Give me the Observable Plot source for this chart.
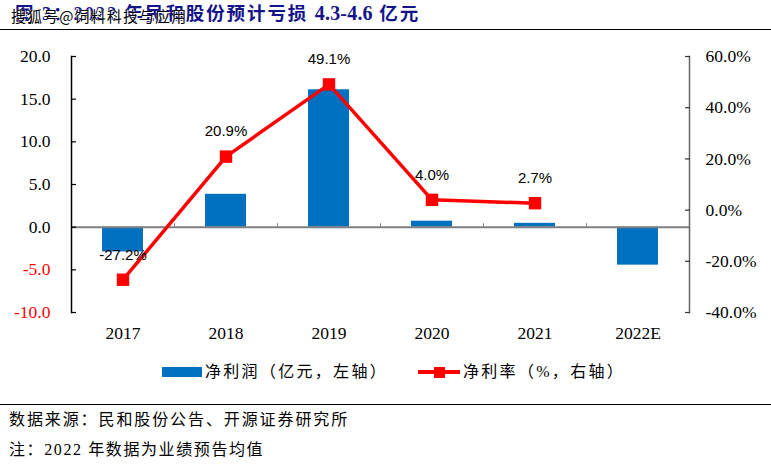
<!DOCTYPE html>
<html><head><meta charset="utf-8">
<script src="https://cdn.jsdelivr.net/npm/d3@7"></script>
<script src="https://cdn.jsdelivr.net/npm/@observablehq/plot@0.6"></script>
<style>
html,body{margin:0;padding:0;background:#fff;}
body{width:771px;height:464px;position:relative;overflow:hidden;font-family:"Liberation Serif","Noto Sans CJK SC",serif;color:#000;}
#title{position:absolute;left:0;top:0;width:771px;height:30px;border-bottom:1.5px solid #000;box-sizing:border-box;font-size:18.5px;font-weight:bold;color:#14148a;line-height:27px;padding-left:15px;letter-spacing:1.9px;white-space:nowrap;}
#title b{letter-spacing:0.2px;font-size:20px;}
#mark{position:absolute;left:11px;top:5px;font:15px/22px "Noto Sans CJK SC",sans-serif;letter-spacing:1.1px;color:#000;white-space:nowrap;text-shadow:0 0 1px #fff,1px 1px 0 #fff;}
#chart{position:absolute;left:0;top:40px;width:771px;height:310px;}
#chart svg{max-width:none !important;}
#legend{position:absolute;top:362px;left:0;width:771px;height:22px;font-size:16px;letter-spacing:2.3px;}
#legend span{position:absolute;top:0;line-height:20px;white-space:nowrap;}
#legend i{position:absolute;display:block;}
#foot{position:absolute;left:0;top:404px;width:771px;border-top:1.5px solid #000;font-size:16px;letter-spacing:1.9px;padding-left:9px;box-sizing:border-box;}
#foot div{line-height:30px;height:30px;}
#foot div+div{letter-spacing:1.6px;}
</style></head><body>
<div id="title">图 3：2022 年民和股份预计亏损 <b>4.3-4.6</b> 亿元</div>
<div id="mark">搜狐号@饲料科技与应用</div>
<div id="chart"></div>
<div id="legend">
<i style="left:162px;top:5px;width:40px;height:10px;background:#0070c0"></i><span style="left:205px">净利润（亿元，左轴）</span>
<i style="left:418px;top:8px;width:42px;height:3.5px;background:#ff0000"></i><i style="left:433.5px;top:4.5px;width:11px;height:11px;background:#ff0000"></i><span style="left:463px">净利率（%，右轴）</span>
</div>
<div id="foot"><div>数据来源：民和股份公告、开源证券研究所</div><div>注：2022 年数据为业绩预告均值</div></div>
<script>
const years = ["2017","2018","2019","2020","2021","2022E"];
const profit = [-2.9,3.85,16.1,0.7,0.45,-4.45];
const rateYears = ["2017","2018","2019","2020","2021"];
const rate = [-27.2,20.9,49.1,4.0,2.7];
const rateLabels = ["-27.2%","20.9%","49.1%","4.0%","2.7%"];
const leftTicks = [-10,-5,0,5,10,15,20];
const rightTicks = [-40,-20,0,20,40,60];
const toLeft = r => r*0.3+2;
const red="#ff0000", blue="#0070c0";
const bars = years.map((y,i)=>({y,v:profit[i]}));
const pts = rateYears.map((y,i)=>({y,v:toLeft(rate[i]),l:rateLabels[i]}));
const plot = Plot.plot({
  width:771,height:310,marginLeft:71,marginRight:82,marginTop:16,marginBottom:38,
  style:{fontFamily:'"Liberation Serif","Noto Sans CJK SC",serif',fontSize:"17.5px",color:"#000",background:"transparent",overflow:"visible"},
  x:{domain:years,paddingInner:0.6,paddingOuter:0.3,align:0.5,axis:null},
  y:{domain:[-10,20],axis:null},
  marks:[
    Plot.barY(bars,{x:"y",y:"v",fill:blue}),
    Plot.ruleX(years.slice(1),{x:d=>d,y1:0,y2:0.4,dx:-51.5,stroke:"#7f7f7f",strokeWidth:1}),
    Plot.ruleY([0],{stroke:"#7f7f7f",strokeWidth:2}),
    Plot.frame({anchor:"left",stroke:"#000",strokeWidth:1.5}),
    Plot.frame({anchor:"right",stroke:"#666",strokeWidth:1.5}),
    Plot.axisY({ticks:leftTicks,tickFormat:d=>d.toFixed(1),anchor:"left",label:null,tickSize:-5,tickPadding:26,fontSize:17.5,stroke:"#000",strokeWidth:1.2,
       fill:d=>d<0?red:"#000"}),
    Plot.axisY({ticks:rightTicks.map(toLeft),tickFormat:d=>Math.round((d-2)/0.3).toFixed(1)+"%",anchor:"right",label:null,tickSize:-5,tickPadding:21,fontSize:17.5,stroke:"#333",strokeWidth:1.2,
       fill:"#000"}),
    Plot.axisX({domain:years,label:null,tickSize:0,tickPadding:14,fontSize:17.5}),
    Plot.lineY(pts,{x:"y",y:"v",stroke:red,strokeWidth:3.5,curve:"linear"}),
    Plot.dot(pts,{x:"y",y:"v",symbol:"square",r:7,fill:red,stroke:"none"}),
    Plot.text(pts,{x:"y",y:"v",text:"l",dy:-25,fontSize:15,fontFamily:'"Liberation Sans",sans-serif',fill:"#000"})
  ]
});
document.getElementById("chart").appendChild(plot);
</script>
</body></html>
